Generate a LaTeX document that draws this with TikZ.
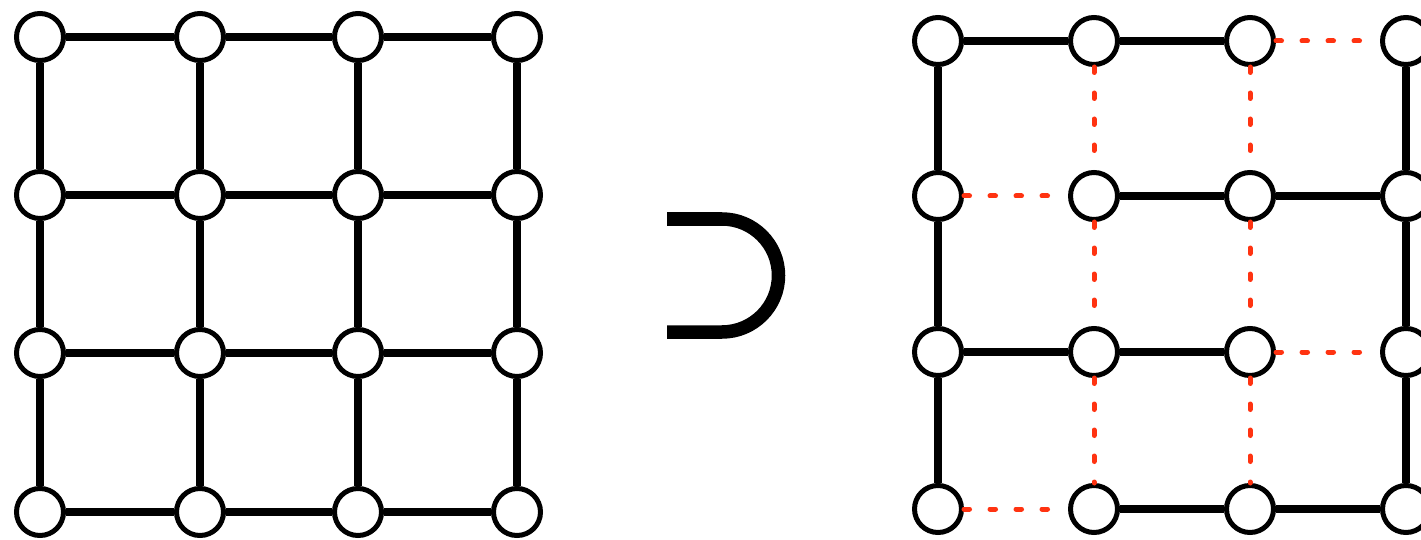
\documentclass[tikz,border=0pt]{standalone}
\definecolor{dashred}{RGB}{255,51,17}
\begin{document}
\begin{tikzpicture}[x=1pt,y=-1pt,
  vtx/.style={circle,draw,line width=5pt,fill=white,minimum size=47pt,inner sep=0pt},
  sedge/.style={line width=8.5pt},
  redge/.style={line width=5pt,dashred,dash pattern=on 5.5pt off 20.5pt,line cap=round}]
\useasboundingbox (0,0) rectangle (1421,540);
% left grid nodes
\foreach \i/\x in {1/40,2/200,3/358,4/517}
  \foreach \j/\y in {1/37,2/195,3/353,4/512}
    \node[vtx] (L\i\j) at (\x,\y) {};
% right grid nodes
\foreach \i/\x in {1/938,2/1094,3/1250,4/1406}
  \foreach \j/\y in {1/41,2/196,3/352,4/509}
    \node[vtx] (R\i\j) at (\x,\y) {};
% left grid edges
\foreach \a/\b in {1/2,2/3,3/4}
  \foreach \k in {1,2,3,4} {
    \draw[sedge] (L\a\k) -- (L\b\k);
    \draw[sedge] (L\k\a) -- (L\k\b);
  }
% right grid horizontal edges
\draw[sedge] (R11) -- (R21);
\draw[sedge] (R21) -- (R31);
\draw[redge] (R31) -- (R41);
\draw[redge] (R12) -- (R22);
\draw[sedge] (R22) -- (R32);
\draw[sedge] (R32) -- (R42);
\draw[sedge] (R13) -- (R23);
\draw[sedge] (R23) -- (R33);
\draw[redge] (R33) -- (R43);
\draw[redge] (R14) -- (R24);
\draw[sedge] (R24) -- (R34);
\draw[sedge] (R34) -- (R44);
% right grid vertical edges
\foreach \a/\b in {1/2,2/3,3/4} {
  \draw[sedge] (R1\a) -- (R1\b);
  \draw[redge] (R2\a) -- (R2\b);
  \draw[redge] (R3\a) -- (R3\b);
  \draw[sedge] (R4\a) -- (R4\b);
}
% superset symbol
\draw[line width=13.5pt] (667,219) -- (722,219)
  arc[start angle=-90,end angle=90,radius=56.5] -- (667,332);
\end{tikzpicture}
\end{document}
